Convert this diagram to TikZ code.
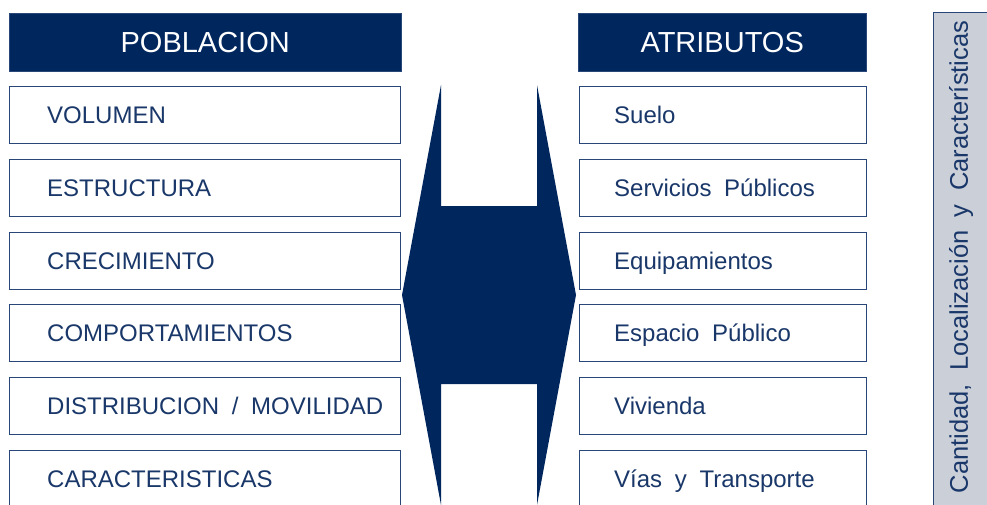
\documentclass[tikz,border=0pt]{standalone}
\usepackage{fontspec}
\setmainfont[WordSpace=1.9]{Liberation Sans}
\definecolor{navy}{RGB}{0,38,94}
\definecolor{boxline}{RGB}{40,70,120}
\definecolor{txt}{RGB}{25,55,105}
\definecolor{sidefill}{RGB}{203,207,216}
\begin{document}
\begin{tikzpicture}[x=1pt,y=-1pt,
  header/.style={draw=boxline,fill=navy,text=white,anchor=north west,minimum height=58pt,inner sep=0pt,font=\fontsize{29}{32}\selectfont},
  itembox/.style={draw=boxline,line width=1pt,fill=white,anchor=north west,minimum height=57pt,inner sep=0pt},
  itemtext/.style={anchor=base west,text=txt,inner sep=0pt,font=\fontsize{24}{26}\selectfont}]
\useasboundingbox[fill=white] (0,0) rectangle (987,504);
% headers
\node[header,minimum width=392pt] (hpob) at (9,13) {POBLACION};
\node[header,minimum width=288pt] (hatr) at (578,13) {ATRIBUTOS};
% left boxes
\foreach \i/\t in {0/{VOLUMEN},1/{ESTRUCTURA},2/{CRECIMIENTO},3/{COMPORTAMIENTOS},4/{DISTRIBUCION / MOVILIDAD},5/{CARACTERISTICAS}}{
  \node[itembox,minimum width=391pt] (L\i) at (9,86+72.8*\i) {};
  \node[itemtext] (LT\i) at ([xshift=38pt,yshift=-8.5pt]L\i.west) {\t};
}
% right boxes
\foreach \i/\t in {0/{Suelo},1/{Servicios Públicos},2/{Equipamientos},3/{Espacio Público},4/{Vivienda},5/{Vías y Transporte}}{
  \node[itembox,minimum width=287pt] (R\i) at (579,86+72.8*\i) {};
  \node[itemtext] (RT\i) at ([xshift=35pt,yshift=-8.5pt]R\i.west) {\t};
}
% double arrow
\fill[navy] (441,85) -- (441,206) -- (537,206) -- (537,85) -- (576,295) -- (537,505)
  -- (537,384) -- (441,384) -- (441,505) -- (402,295) -- cycle;
% side box
\draw[draw=boxline,fill=sidefill,line width=0.8pt] (933,12) rectangle (992,510);
\node[rotate=90,text=txt,inner sep=0pt,font=\fontsize{25.5}{28}\selectfont] (side) at (961,257) {Cantidad, Localización y Características};
\end{tikzpicture}
\end{document}
